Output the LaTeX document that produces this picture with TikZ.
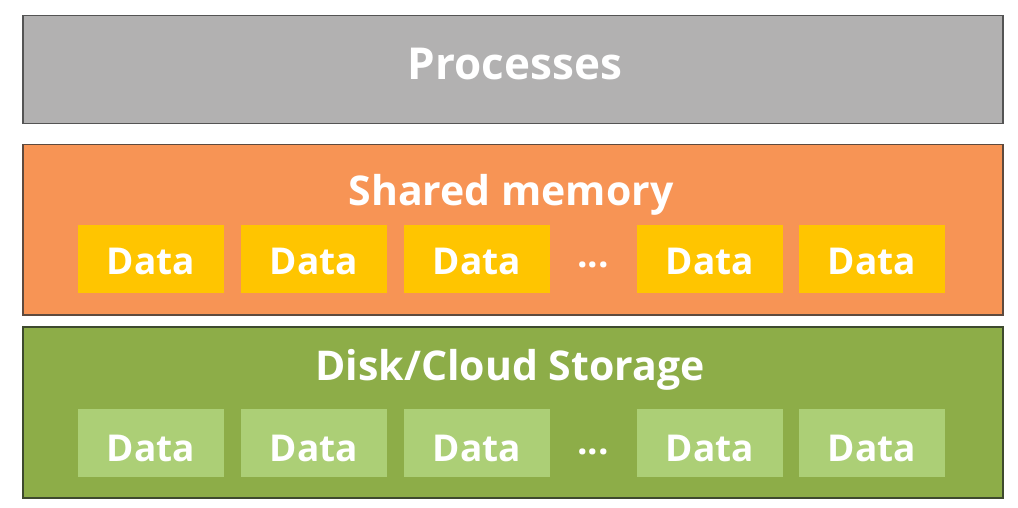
\documentclass[tikz,border=0pt]{standalone}
\usepackage{fontspec}
\setmainfont{Open Sans}
\definecolor{procgray}{RGB}{178,177,177}
\definecolor{procline}{RGB}{84,84,84}
\definecolor{shmorange}{RGB}{247,148,85}
\definecolor{shmline}{RGB}{94,74,62}
\definecolor{shmyellow}{RGB}{255,197,0}
\definecolor{dskgreen}{RGB}{141,173,72}
\definecolor{dskline}{RGB}{62,74,46}
\definecolor{dsklight}{RGB}{172,207,118}
\begin{document}
\begin{tikzpicture}[x=1pt,y=-1pt,
    layer/.style={draw=#1,line width=1.5pt,anchor=north west,minimum width=980pt,inner sep=0pt},
    title/.style={anchor=base,text=white,font=\fontsize{41}{48}\selectfont\bfseries},
    databox/.style={fill=#1,anchor=north west,minimum width=146pt,minimum height=68pt,inner sep=0pt},
    datatext/.style={anchor=base,text=white,font=\fontsize{37}{44}\selectfont\bfseries}]
    \useasboundingbox (0,0) rectangle (1018,508);

    \node[layer=procline,fill=procgray,minimum height=108pt] (procs) at (22,15) {};
    \node[layer=shmline,fill=shmorange,minimum height=170pt] (shmem) at (22,144) {};
    \node[layer=dskline,fill=dskgreen,minimum height=171pt] (disk) at (22,326) {};

    \node[title,font=\fontsize{44}{50}\selectfont\bfseries] (procstitle) at (515,80) {Processes};
    \node[title] (shmtitle) at (511,205) {Shared memory};
    \node[title] (dsktitle) at (510,380) {Disk/Cloud Storage};

    \foreach \x/\i in {78/1,241/2,404/3,637/4,799/5} {
      \node[databox=shmyellow] (shm\i) at (\x,225) {};
      \node[datatext] at (\x+73,274) {Data};
      \node[databox=dsklight] (dsk\i) at (\x,409) {};
      \node[datatext] at (\x+73,461) {Data};
    }
    \node[datatext] (shmdots) at (593,267) {...};
    \node[datatext] (dskdots) at (593,454) {...};
  \end{tikzpicture}
\end{document}
